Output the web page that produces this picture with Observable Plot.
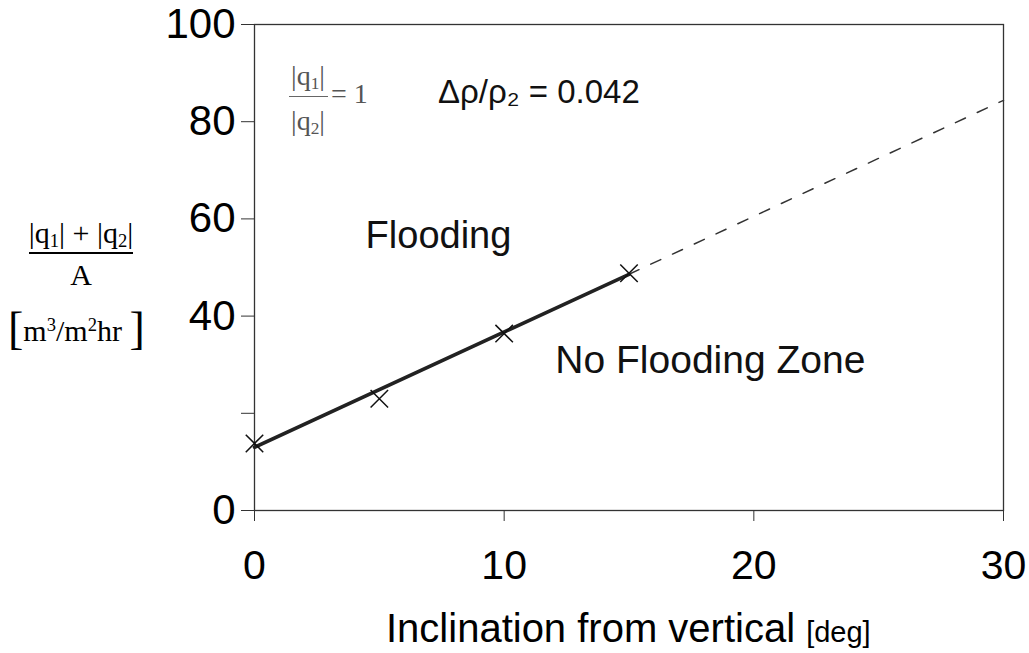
<!DOCTYPE html>
<html>
<head>
<meta charset="utf-8">
<script src="https://cdn.jsdelivr.net/npm/d3@7"></script>
<script src="https://cdn.jsdelivr.net/npm/@observablehq/plot@0.6"></script>
<style>
  html, body { margin: 0; padding: 0; background: #fff; }
  #wrap { position: relative; width: 1029px; height: 653px; overflow: hidden; }
  .ov { position: absolute; white-space: nowrap; line-height: 1; color: #000; }
  .serif { font-family: "Liberation Serif", "Times New Roman", serif; }
  .sans { font-family: "Liberation Sans", Arial, sans-serif; }
  .ov sub { font-size: 0.62em; vertical-align: -0.22em; line-height: 0; }
  .ov sup { font-size: 0.62em; vertical-align: 0.55em; line-height: 0; }
  .bar { position: absolute; }
  .br { font-size: 46px; line-height: 0; vertical-align: -0.07em; }
</style>
</head>
<body>
<div id="wrap"></div>
<script>
// ---- data ----
const angle = [0, 5, 10, 15];                 // inclination from vertical [deg]
const floodRate = [13.8, 23.0, 36.4, 48.8];   // (|q1|+|q2|)/A [m3/m2hr]
const fitX = [0, 15];
const fitY = [13.0, 48.6];
const extX = [15, 30];
const extY = [48.6, 84.4];
const xTicks = [0, 10, 20, 30];
const yTicks = [0, 20, 40, 60, 80, 100];
const yTickLabels = ["0", "", "40", "60", "80", "100"];
const regionLabels = ["Flooding", "No Flooding Zone"];
const regionX = [4.45, 12.05];
const regionY = [56.5, 30.8];
const densityNote = "Δρ/ρ₂ = 0.042";

const points = angle.map((a, i) => ({x: a, y: floodRate[i]}));
const fit = fitX.map((a, i) => ({x: a, y: fitY[i]}));
const ext = extX.map((a, i) => ({x: a, y: extY[i]}));

const chart = Plot.plot({
  width: 1029,
  height: 653,
  marginLeft: 254,
  marginRight: 26,
  marginTop: 24,
  marginBottom: 143,
  style: {fontFamily: "'Liberation Sans', Arial, sans-serif", background: "transparent", color: "#000"},
  x: {domain: [0, 30]},
  y: {domain: [0, 100]},
  marks: [
    Plot.frame({stroke: "#333", strokeWidth: 1.3}),
    Plot.axisY({ticks: yTicks, tickFormat: d => yTickLabels[yTicks.indexOf(d)], tickSize: 13, tickPadding: 6, fontSize: 42, label: null, stroke: "#333"}),
    Plot.axisX({ticks: xTicks, tickFormat: d => String(d), tickSize: 11, tickPadding: 28, fontSize: 41, label: null, stroke: "#333"}),
    Plot.line(ext, {x: "x", y: "y", stroke: "#333", strokeWidth: 1.5, strokeDasharray: "11,13"}),
    Plot.line(fit, {x: "x", y: "y", stroke: "#222", strokeWidth: 3.5}),
    Plot.dot(points, {x: "x", y: "y", symbol: "times", r: 8, stroke: "#111", strokeWidth: 1.5}),
    Plot.text(regionLabels, {x: (d, i) => regionX[i], y: (d, i) => regionY[i], text: d => d, textAnchor: "start", fontSize: (d, i) => i === 0 ? 38 : 39, fill: "#111"}),
    Plot.text([densityNote], {x: 7.35, y: 86, text: d => d, textAnchor: "start", fontSize: 33, fill: "#111"})
  ]
});

const wrap = document.getElementById("wrap");
chart.style.position = "absolute";
chart.style.left = "0px";
chart.style.top = "0px";
wrap.appendChild(chart);

// ---- text overlays (axis titles and formula annotation) ----
const html = `
  <div class="ov serif" style="left:27px; top:218px; width:108px; text-align:center; font-size:30px;">|q<sub>1</sub>| + |q<sub>2</sub>|</div>
  <div class="bar" style="left:29px; top:252px; width:104px; height:1.8px; background:#000;"></div>
  <div class="ov serif" style="left:29px; top:260px; width:104px; text-align:center; font-size:30px;">A</div>
  <div class="ov serif" style="left:8px; top:316px; font-size:30px;"><span class="br">[</span>m<sup>3</sup>/m<sup>2</sup>hr <span class="br">]</span></div>

  <div class="ov serif" style="left:287px; top:62px; width:42px; text-align:center; font-size:28px; color:#555;">|q<sub>1</sub>|</div>
  <div class="bar" style="left:289px; top:96px; width:39px; height:1.3px; background:#666;"></div>
  <div class="ov serif" style="left:287px; top:107px; width:42px; text-align:center; font-size:28px; color:#555;">|q<sub>2</sub>|</div>
  <div class="ov serif" style="left:331px; top:80px; font-size:28px; color:#555;">= 1</div>

  <div class="ov sans" style="left:386px; top:608px; font-size:40px;">Inclination from vertical <span style="font-size:29px;">[deg]</span></div>
`;
wrap.insertAdjacentHTML("beforeend", html);
</script>
</body>
</html>
